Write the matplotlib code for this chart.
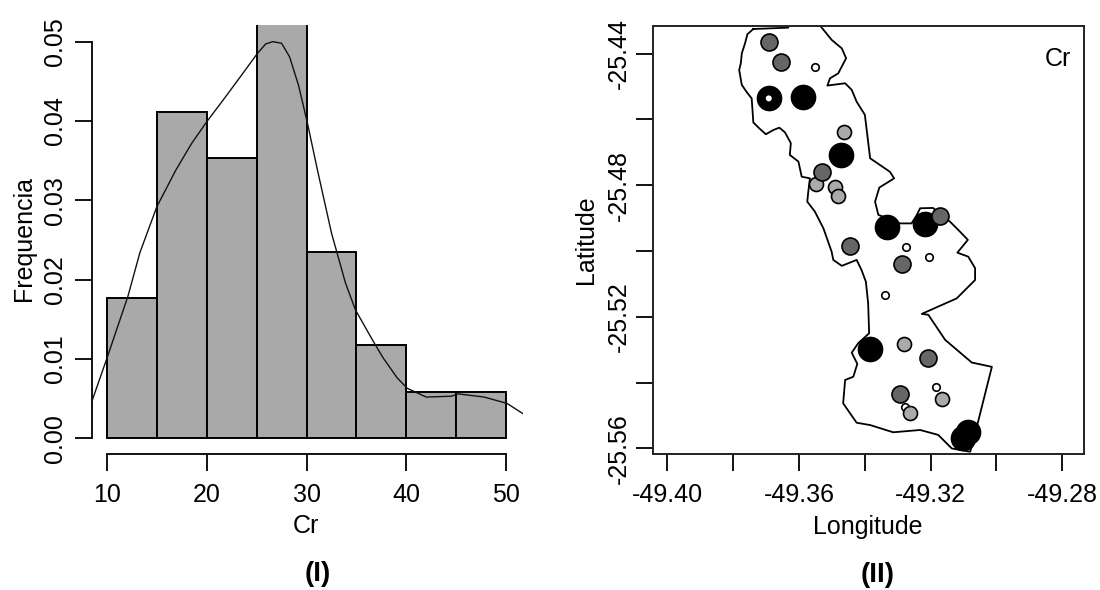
import matplotlib
matplotlib.use("Agg")
import matplotlib.pyplot as plt
import numpy as np

plt.rcParams['font.family'] = ['Liberation Sans', 'DejaVu Sans']

# --- Histogram (I)
bin_edges = [10, 15, 20, 25, 30, 35, 40, 45, 50]
densities = [0.01765, 0.04118, 0.03529, 0.05882, 0.02353, 0.01176, 0.00588, 0.00588]
curve_x = [8.5, 10, 12.1, 13.3, 15, 16.9, 18.5, 20, 21.8, 23.5, 25.07, 25.9, 26.6, 27.5, 28.3, 29.2,
           30.1, 31.1, 32.5, 33.9, 34.9, 36.7, 37.7, 39.1, 40.1, 42, 44.5, 45.2, 47.8, 50.1, 51.7]
curve_y = [.0047, .0101, .0179, .0234, .0292, .0338, .0372, .0399, .0429, .0458, .0485, .0497, .0500, .0498, .0481, .0445,
           .0397, .0338, .0259, .0196, .0162, .0122, .0101, .0076, .0063, .0052, .0053, .0056, .0052, .0044, .0031]
hist_xticks = [10, 20, 30, 40, 50]
hist_yticks = [0.00, 0.01, 0.02, 0.03, 0.04, 0.05]
hist_yticklabels = ['0.00', '0.01', '0.02', '0.03', '0.04', '0.05']

# --- Map (II)
boundary_lon = [-49.3739, -49.3757, -49.3764, -49.3774, -49.3777, -49.3782, -49.3774, -49.3759, -49.3744, -49.3739,
                -49.3721, -49.3701, -49.3678, -49.3660, -49.3643, -49.3625, -49.3628, -49.3602, -49.3592, -49.3567,
                -49.3572, -49.3575, -49.3552, -49.3526, -49.3501, -49.3496, -49.3470, -49.3425, -49.3410, -49.3397,
                -49.3390, -49.3387, -49.3420, -49.3440, -49.3423, -49.3435, -49.3460, -49.3466, -49.3425, -49.3384,
                -49.3314, -49.3232, -49.3177, -49.3136, -49.3111, -49.3080, -49.3075, -49.3014, -49.3075, -49.3156,
                -49.3207, -49.3227, -49.3121, -49.3065, -49.3065, -49.3086, -49.3119, -49.3087, -49.3111, -49.3141,
                -49.3193, -49.3232, -49.3242, -49.3258, -49.3293, -49.3359, -49.3369, -49.3356, -49.3311, -49.3324,
                -49.3384, -49.3400, -49.3425, -49.3440, -49.3460, -49.3514, -49.3506, -49.3481, -49.3457, -49.3470,
                -49.3501, -49.3531, -49.3552, -49.3628, -49.3633, -49.3739]
boundary_lat = [-25.4325, -25.4341, -25.4368, -25.4399, -25.4429, -25.4450, -25.4495, -25.4517, -25.4536, -25.4609,
                -25.4627, -25.4645, -25.4632, -25.4625, -25.4639, -25.4672, -25.4708, -25.4728, -25.4774, -25.4779,
                -25.4820, -25.4850, -25.4880, -25.4931, -25.5002, -25.5027, -25.5045, -25.5027, -25.5058, -25.5093,
                -25.5159, -25.5250, -25.5280, -25.5309, -25.5343, -25.5382, -25.5392, -25.5463, -25.5522, -25.5529,
                -25.5551, -25.5544, -25.5559, -25.5600, -25.5605, -25.5610, -25.5595, -25.5352, -25.5339, -25.5270,
                -25.5194, -25.5191, -25.5144, -25.5088, -25.5052, -25.5017, -25.5005, -25.4966, -25.4941, -25.4911,
                -25.4869, -25.4870, -25.4890, -25.4916, -25.4916, -25.4890, -25.4850, -25.4807, -25.4779, -25.4759,
                -25.4718, -25.4586, -25.4546, -25.4510, -25.4490, -25.4497, -25.4475, -25.4460, -25.4414, -25.4384,
                -25.4358, -25.4321, -25.4298, -25.4298, -25.4321, -25.4325]

black_lon = [-49.3692, -49.3589, -49.3473, -49.3334, -49.3218, -49.3383, -49.3086, -49.3103]
black_lat = [-25.4536, -25.4532, -25.4708, -25.4927, -25.4918, -25.5299, -25.5549, -25.5569]
dark_lon = [-49.3691, -49.3654, -49.3531, -49.3172, -49.3446, -49.3288, -49.3209, -49.3294]
dark_lat = [-25.4364, -25.4425, -25.4759, -25.4892, -25.4985, -25.5039, -25.5326, -25.5435]
light_lon = [-49.3464, -49.3549, -49.3490, -49.3483, -49.3282, -49.3166, -49.3264]
light_lat = [-25.4638, -25.4797, -25.4806, -25.4833, -25.5283, -25.5449, -25.5491]
white_lon = [-49.3553, -49.3274, -49.3206, -49.3340, -49.3183, -49.3277]
white_lat = [-25.4440, -25.4989, -25.5019, -25.5134, -25.5414, -25.5474]
core_lon = [-49.3692]
core_lat = [-25.4536]

map_xticks = [-49.40, -49.38, -49.36, -49.34, -49.32, -49.30, -49.28]
map_xticklabels = ['-49.40', '', '-49.36', '', '-49.32', '', '-49.28']
map_yticks = [-25.44, -25.46, -25.48, -25.50, -25.52, -25.54, -25.56]
map_yticklabels = ['-25.44', '', '-25.48', '', '-25.52', '', '-25.56']

W, H = 1100, 590
FS = 18
fig = plt.figure(figsize=(W / 100, H / 100), dpi=100)

def axes_px(l, t, r, b):
    return fig.add_axes([l / W, 1 - b / H, (r - l) / W, (b - t) / H])

# Histogram panel
ax1 = axes_px(92, 25, 523, 454)
ax1.bar(bin_edges[:-1], densities, width=np.diff(bin_edges), align='edge',
        facecolor='#A9A9A9', edgecolor='black', linewidth=1.4, zorder=2)
ax1.plot(curve_x, curve_y, color='#111111', linewidth=1.0, zorder=3)
ax1.set_xlim(8.5, 51.7)
ax1.set_ylim(-0.00198, 0.0521)
for s in ['top', 'right']:
    ax1.spines[s].set_visible(False)
ax1.spines['left'].set_bounds(0, 0.05)
ax1.spines['bottom'].set_bounds(10, 50)
for s in ['left', 'bottom']:
    ax1.spines[s].set_linewidth(1.3)
ax1.set_xticks(hist_xticks)
ax1.set_yticks(hist_yticks)
ax1.set_yticklabels(hist_yticklabels, rotation=90, va='center')
ax1.tick_params(axis='both', length=12, width=1.3, labelsize=FS)
ax1.tick_params(axis='x', pad=9)
ax1.tick_params(axis='y', pad=6)

# Map panel
ax2 = axes_px(653.3, 25.7, 1084, 454)
ax2.plot(boundary_lon, boundary_lat, color='black', linewidth=1.3, zorder=1)

def pts(lon, lat, diam_px, face, z):
    ax2.scatter(lon, lat, s=(diam_px * 0.72) ** 2, facecolor=face, edgecolor='black',
                linewidth=1.2, zorder=z)

pts(black_lon, black_lat, 24, 'black', 2)
pts(white_lon, white_lat, 7.5, 'white', 3)
pts(light_lon, light_lat, 14, '#AAAAAA', 4)
pts(dark_lon, dark_lat, 17, '#666666', 5)
ax2.scatter(core_lon, core_lat, s=(6 * 0.72) ** 2, facecolor='white', edgecolor='none', zorder=6)

ax2.set_xlim(-49.4043, -49.2734)
ax2.set_ylim(-25.5617, -25.4315)
ax2.set_xticks(map_xticks)
ax2.set_xticklabels(map_xticklabels)
ax2.set_yticks(map_yticks)
ax2.set_yticklabels(map_yticklabels, rotation=90, va='center')
ax2.tick_params(axis='both', length=12, width=1.3, labelsize=FS)
ax2.tick_params(axis='x', pad=9)
ax2.tick_params(axis='y', pad=4.5)
for s in ax2.spines.values():
    s.set_linewidth(1.4)
    s.set_color('#222222')

def ftext(x, y, s, **kw):
    fig.text(x / W, 1 - y / H, s, ha='center', va='center', **kw)

ftext(306, 526, 'Cr', fontsize=FS)
ftext(24, 239, 'Frequencia', fontsize=FS, rotation=90)
ftext(868, 527, 'Longitude', fontsize=FS)
ftext(586, 240, 'Latitude', fontsize=FS, rotation=90)
ftext(1058, 59, 'Cr', fontsize=FS)
ftext(318, 574, '(I)', fontsize=20, fontweight='bold')
ftext(878, 575, '(II)', fontsize=20, fontweight='bold')

fig.savefig('out.png', dpi=100)
